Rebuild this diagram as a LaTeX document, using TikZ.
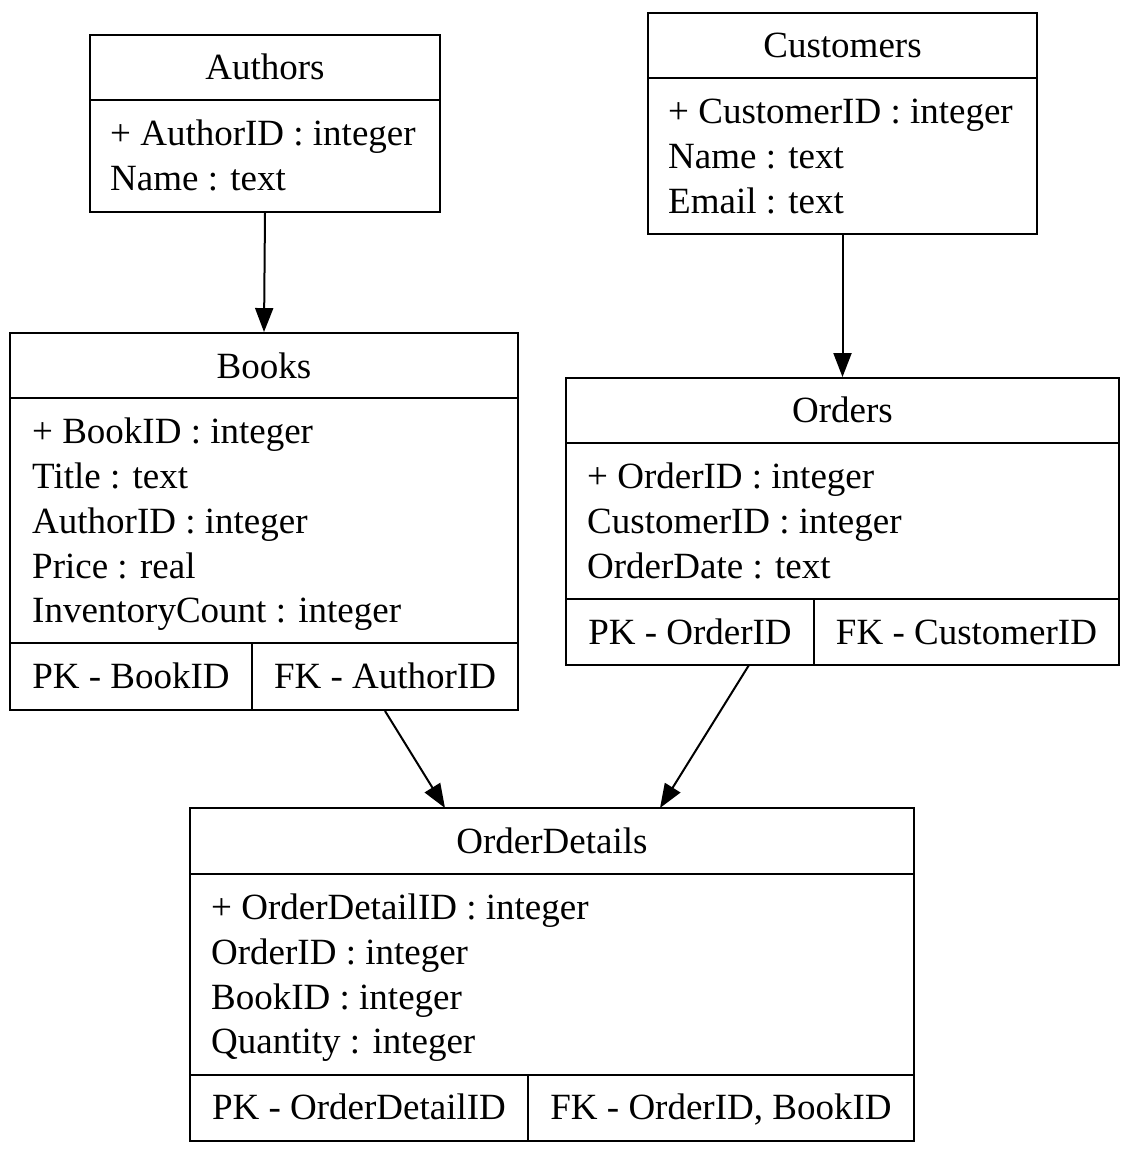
\documentclass[tikz,border=0pt]{standalone}
\usepackage{fontspec}
\setmainfont{Liberation Serif}
\usetikzlibrary{arrows.meta}
\newcommand{\tabfont}{\fontsize{37}{45}\selectfont}
\tikzset{
  box/.style={draw, line width=1.9pt, rectangle, inner sep=0pt},
  rule/.style={line width=1.9pt},
  txt/.style={anchor=base west, inner sep=0pt, font=\tabfont},
  hdr/.style={anchor=base, inner sep=0pt, font=\tabfont},
  link/.style={line width=2pt, -{Triangle[length=24pt,width=18pt]}}
}
\begin{document}
\begin{tikzpicture}[x=1pt,y=-1pt]
\useasboundingbox (0,0) rectangle (1130,1154);

% Authors
\node[box, minimum width=350pt, minimum height=177pt] (authors) at (265,123.5) {};
\draw[rule] (90,100) -- (440,100);
\node[hdr] (authorsH) at (265,79) {Authors};
\node[txt] (authors1) at (110,145) {+ AuthorID : integer};
\node[txt] (authors2) at (110,190) {Name : text};

% Customers
\node[box, minimum width=389pt, minimum height=221pt] (customers) at (842.5,123.5) {};
\draw[rule] (648,78) -- (1037,78);
\node[hdr] (customersH) at (842.5,57) {Customers};
\node[txt] (customers1) at (668,123) {+ CustomerID : integer};
\node[txt] (customers2) at (668,168) {Name : text};
\node[txt] (customers3) at (668,213) {Email : text};

% Books
\node[box, minimum width=508pt, minimum height=377pt] (books) at (264,521.5) {};
\draw[rule] (10,398) -- (518,398);
\draw[rule] (10,643) -- (518,643);
\node[box, minimum width=242pt, minimum height=67pt] (booksPK) at (131,676.5) {};
\node[box, minimum width=266pt, minimum height=67pt] (booksFK) at (385,676.5) {};
\node[hdr] (booksH) at (264,378) {Books};
\node[txt] (books1) at (32,443) {+ BookID : integer};
\node[txt] (books2) at (32,488) {Title : text};
\node[txt] (books3) at (32,533) {AuthorID : integer};
\node[txt] (books4) at (32,578) {Price : real};
\node[txt] (books5) at (32,622) {InventoryCount : integer};
\node[hdr] (booksPKt) at (131,688) {PK - BookID};
\node[hdr] (booksFKt) at (385,688) {FK - AuthorID};

% Orders
\node[box, minimum width=553pt, minimum height=287pt] (orders) at (842.5,521.5) {};
\draw[rule] (566,443) -- (1119,443);
\draw[rule] (566,599) -- (1119,599);
\node[box, minimum width=248pt, minimum height=66pt] (ordersPK) at (690,632) {};
\node[box, minimum width=305pt, minimum height=66pt] (ordersFK) at (966.5,632) {};
\node[hdr] (ordersH) at (842.5,422) {Orders};
\node[txt] (orders1) at (587,488) {+ OrderID : integer};
\node[txt] (orders2) at (587,533) {CustomerID : integer};
\node[txt] (orders3) at (587,578) {OrderDate : text};
\node[hdr] (ordersPKt) at (690,644) {PK - OrderID};
\node[hdr] (ordersFKt) at (966.5,644) {FK - CustomerID};

% OrderDetails
\node[box, minimum width=724pt, minimum height=333pt] (od) at (552,974.5) {};
\draw[rule] (190,874) -- (914,874);
\draw[rule] (190,1075) -- (914,1075);
\node[box, minimum width=338pt, minimum height=66pt] (odPK) at (359,1108) {};
\node[box, minimum width=386pt, minimum height=66pt] (odFK) at (721,1108) {};
\node[hdr] (odH) at (552,853) {OrderDetails};
\node[txt] (od1) at (211,919) {+ OrderDetailID : integer};
\node[txt] (od2) at (211,964) {OrderID : integer};
\node[txt] (od3) at (211,1009) {BookID : integer};
\node[txt] (od4) at (211,1053) {Quantity : integer};
\node[hdr] (odPKt) at (359,1119) {PK - OrderDetailID};
\node[hdr] (odFKt) at (721,1119) {FK - OrderID, BookID};

% connectors
\coordinate (ordersOut) at (749,665);
\coordinate (odIn1) at (445,808);
\coordinate (odIn2) at (660,808);
\draw[link] (authors.south) -- (books.north);
\draw[link] (customers.south) -- (orders.north);
\draw[link] (booksFK.south) -- (odIn1);
\draw[link] (ordersOut) -- (odIn2);
\end{tikzpicture}
\end{document}
